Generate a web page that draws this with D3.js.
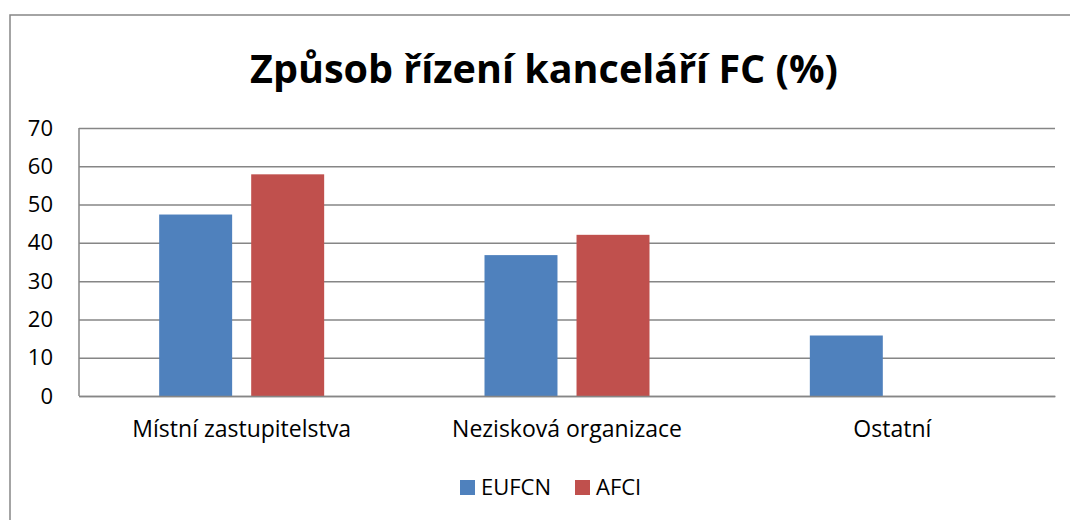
<!DOCTYPE html>
<html>
<head>
<meta charset="utf-8">
<script src="https://cdn.jsdelivr.net/npm/d3@7"></script>
<style>
  body { margin:0; background:#fff; }
  text { font-family: "Open Sans", "Noto Sans", sans-serif; }
</style>
</head>
<body>
<div class="chart"></div>
<script>
const categories = ["Místní zastupitelstva", "Nezisková organizace", "Ostatní"];
const seriesNames = ["EUFCN", "AFCI"];
const eufcn = [47.4, 36.8, 15.8];
const afci = [57.9, 42.1, 0];
const yTicks = [0, 10, 20, 30, 40, 50, 60, 70];
const colors = ["#4F81BD", "#C0504D"];

const W = 1070, H = 520;
const margin = { top:128, left:79, right:15, bottom:124 };
const iW = W - margin.left - margin.right;
const iH = H - margin.top - margin.bottom;

const svg = d3.select(".chart").append("svg")
    .attr("width", W)
    .attr("height", H);

// chart border (runs off the right and bottom of the picture)
svg.append("rect")
    .attr("x", 10).attr("y", 15)
    .attr("width", W + 20).attr("height", H + 20)
    .attr("fill", "#fff")
    .attr("stroke", "#868686")
    .attr("stroke-width", 1.5);

const title = svg.append("text")
    .attr("x", 544).attr("y", 83)
    .attr("text-anchor", "middle")
    .attr("font-weight", "bold")
    .attr("font-size", 40)
    .attr("fill", "#000")
    .text("Způsob řízení kanceláří FC (%)");
// fit title to the width seen in the reference
const tw = title.node().getComputedTextLength();
title.attr("font-size", 40 * 588 / tw);

const data = categories.map((c, i) => ({ cat:c, values:[eufcn[i], afci[i]] }));

const x0 = d3.scaleBand().domain(categories).range([0, iW]).padding(0);
const groupW = 165;
const x1 = d3.scaleBand().domain(seriesNames)
    .range([(x0.bandwidth() - groupW) / 2, (x0.bandwidth() + groupW) / 2])
    .paddingInner(0.207).paddingOuter(0);
const y = d3.scaleLinear().domain([0, 70]).range([iH, 0]);

const graph = svg.append("g")
    .attr("transform", `translate(${margin.left},${margin.top})`);

// grid + y axis
const yAxis = d3.axisLeft(y).tickValues(yTicks).tickSize(-iW).tickPadding(26);
const ya = graph.append("g").call(yAxis);
ya.select(".domain").remove();
ya.selectAll(".tick line").attr("stroke", "#868686").attr("stroke-width", 1.5);
ya.selectAll(".tick text").attr("fill", "#000").attr("font-size", 22);

graph.append("line")
    .attr("x1", 0).attr("x2", 0).attr("y1", 0).attr("y2", iH)
    .attr("stroke", "#868686").attr("stroke-width", 1.5);

// bars
const groups = graph.selectAll(".grp").data(data).enter().append("g")
    .attr("class", "grp")
    .attr("transform", d => `translate(${x0(d.cat)},0)`);

groups.selectAll("rect")
    .data(d => d.values.map((v, j) => ({ s:seriesNames[j], v:v, j:j })))
    .enter().append("rect")
    .filter(d => d.v > 0)
    .attr("x", d => x1(d.s))
    .attr("y", d => y(d.v))
    .attr("width", x1.bandwidth())
    .attr("height", d => iH - y(d.v))
    .attr("fill", d => colors[d.j]);

// x axis
const xa = graph.append("g")
    .attr("transform", `translate(0,${iH})`)
    .call(d3.axisBottom(x0).tickSize(0).tickPadding(25));
xa.select(".domain").attr("stroke", "#868686").attr("stroke-width", 1.5);
xa.selectAll(".tick text").attr("fill", "#000").attr("font-size", 23);

// legend
const legend = svg.append("g").attr("transform", "translate(460,480)");
const items = [{ name:"EUFCN", x:0 }, { name:"AFCI", x:115 }];
items.forEach((it, i) => {
    legend.append("rect")
        .attr("x", it.x).attr("y", 0)
        .attr("width", 15).attr("height", 15)
        .attr("fill", colors[i]);
    legend.append("text")
        .attr("x", it.x + 21).attr("y", 15)
        .attr("font-size", 22).attr("fill", "#000")
        .text(it.name);
});
</script>
</body>
</html>
